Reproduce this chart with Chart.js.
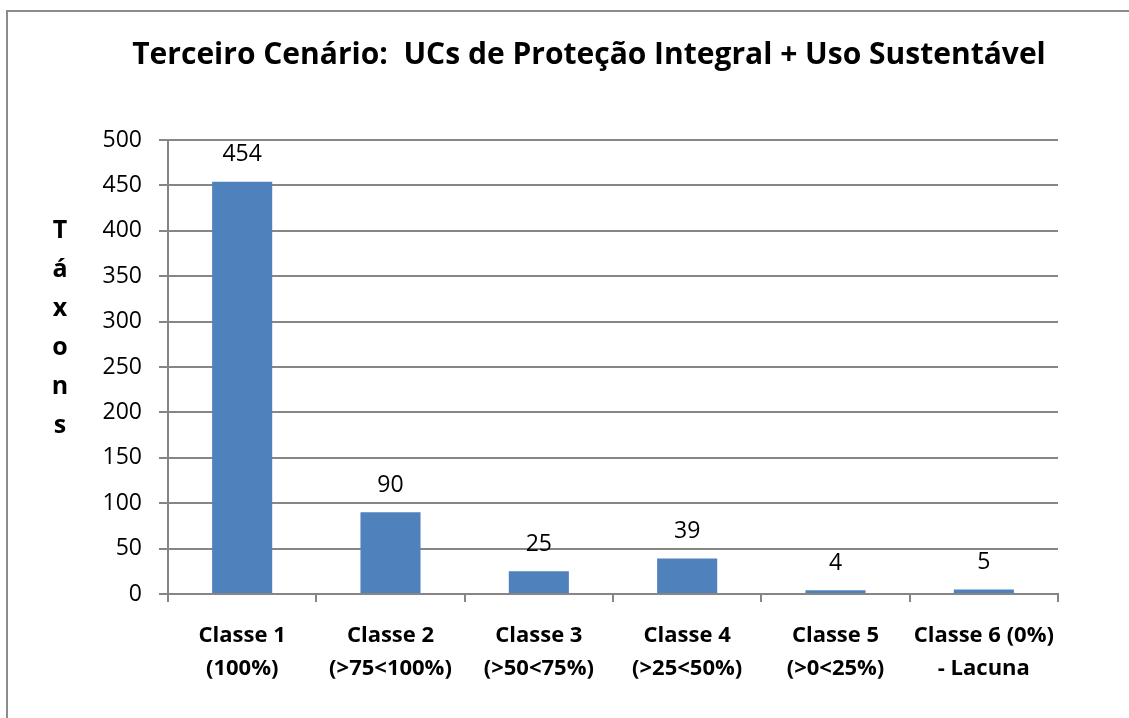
<!DOCTYPE html>
<html>
<head>
<meta charset="utf-8">
<script src="https://cdn.jsdelivr.net/npm/chart.js@4"></script>
<style>
  html, body { margin: 0; padding: 0; background: #fff; }
  #wrap { width: 1129px; height: 718px; }
</style>
</head>
<body>
<div id="wrap"><canvas id="barChart"></canvas></div>
<script>
const categories = [
  ['Classe 1', '(100%)'],
  ['Classe 2', '(>75<100%)'],
  ['Classe 3', '(>50<75%)'],
  ['Classe 4', '(>25<50%)'],
  ['Classe 5', '(>0<25%)'],
  ['Classe 6 (0%)', '- Lacuna']
];
const taxons = [454, 90, 25, 39, 4, 5];
const yTicks = [0, 50, 100, 150, 200, 250, 300, 350, 400, 450, 500];
const chartTitle = 'Terceiro Cenário:  UCs de Proteção Integral + Uso Sustentável';
const yTitle = 'Táxons';

const FONT = '"Open Sans", sans-serif';
const GRID = '#868686';

// frame, title, stacked y title and value labels
const decor = {
  id: 'decor',
  beforeDraw(chart) {
    const ctx = chart.ctx;
    ctx.save();
    ctx.fillStyle = '#fff';
    ctx.fillRect(0, 0, chart.width, chart.height);
    ctx.strokeStyle = '#8c8c8c';
    ctx.lineWidth = 2;
    ctx.strokeRect(7, 11, chart.width + 20, chart.height + 20);
    ctx.restore();
  },
  afterDraw(chart) {
    const ctx = chart.ctx;
    ctx.save();
    ctx.fillStyle = '#000';
    ctx.textAlign = 'center';
    ctx.textBaseline = 'middle';
    ctx.font = 'bold 30px ' + FONT;
    ctx.fillText(chartTitle, 589, 55);

    ctx.textBaseline = 'alphabetic';
    ctx.font = 'bold 25px ' + FONT;
    yTitle.split('').forEach((ch, i) => {
      ctx.fillText(ch, 60, 238 + i * 39);
    });

    ctx.textBaseline = 'middle';
    ctx.font = '23px ' + FONT;
    const meta = chart.getDatasetMeta(0);
    meta.data.forEach((bar, i) => {
      ctx.fillText(String(taxons[i]), bar.x, bar.y - 27);
    });
    ctx.restore();
  }
};

new Chart(document.getElementById('barChart'), {
  type: 'bar',
  data: {
    labels: categories,
    datasets: [{
      label: 'Táxons',
      data: taxons,
      backgroundColor: '#4F81BD',
      borderWidth: 0,
      barPercentage: 0.405,
      categoryPercentage: 1
    }]
  },
  options: {
    responsive: true,
    maintainAspectRatio: false,
    animation: false,
    devicePixelRatio: 1,
    layout: { padding: { left: 40, top: 140, right: 71, bottom: 0 } },
    plugins: {
      legend: { display: false },
      tooltip: { enabled: false },
      title: { display: false }
    },
    scales: {
      x: {
        offset: true,
        grid: {
          offset: true,
          drawOnChartArea: false,
          drawTicks: true,
          tickLength: 8,
          color: GRID,
          lineWidth: 2
        },
        border: { color: GRID, width: 2 },
        ticks: {
          color: '#000',
          font: { family: FONT, size: 22, weight: 'bold', lineHeight: 1.5 },
          padding: 17,
          maxRotation: 0,
          autoSkip: false
        },
        afterFit(scale) { scale.height = 124; }
      },
      y: {
        min: 0,
        max: 500,
        afterBuildTicks(scale) { scale.ticks = yTicks.map(v => ({ value: v })); },
        grid: {
          color: GRID,
          lineWidth: 2,
          tickLength: 9,
          drawTicks: true
        },
        border: { color: GRID, width: 2 },
        ticks: {
          color: '#000',
          font: { family: FONT, size: 23 },
          padding: 17
        },
        afterFit(scale) { scale.width = 128; }
      }
    }
  },
  plugins: [decor]
});
</script>
</body>
</html>
